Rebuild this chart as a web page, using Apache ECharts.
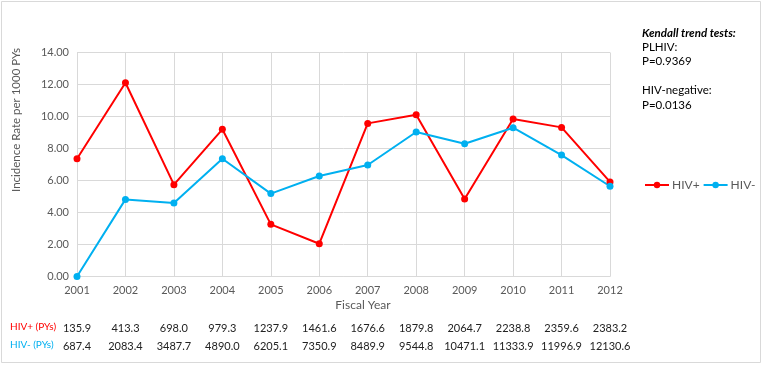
<!DOCTYPE html>
<html>
<head>
<meta charset="utf-8">
<script src="https://cdn.jsdelivr.net/npm/echarts@6/dist/echarts.min.js"></script>
<style>
  html, body { margin: 0; padding: 0; background: #fff; }
  #chart { width: 763px; height: 365px; }
</style>
</head>
<body>
<div id="chart"></div>
<script>
// fiscal years on the x axis
var years = ['2001','2002','2003','2004','2005','2006','2007','2008','2009','2010','2011','2012'];
// incidence rate per 1000 PYs
var hivPos = [7.36, 12.11, 5.74, 9.20, 3.26, 2.05, 9.57, 10.11, 4.84, 9.84, 9.32, 5.91];
var hivNeg = [0.00, 4.82, 4.59, 7.36, 5.18, 6.28, 6.97, 9.03, 8.30, 9.30, 7.59, 5.64];
// person-years table under the chart
var pysPos = ['135.9','413.3','698.0','979.3','1237.9','1461.6','1676.6','1879.8','2064.7','2238.8','2359.6','2383.2'];
var pysNeg = ['687.4','2083.4','3487.7','4890.0','6205.1','7350.9','8489.9','9544.8','10471.1','11333.9','11996.9','12130.6'];
var kendallLines = ['PLHIV:', 'P=0.9369', '', 'HIV-negative:', 'P=0.0136'];

var FONT = 'Lato';
var RED = '#ff0000', BLUE = '#00b0f0', GREY = '#595959', GRID = '#d9d9d9';

var chart = echarts.init(document.getElementById('chart'));

// extra category axis used as one row of the PY table
function tableAxis(vals, margin) {
	return {
		type: 'category',
		data: vals,
		boundaryGap: false,
		position: 'bottom',
		axisLine: { show: false },
		axisTick: { show: false },
		splitLine: { show: false },
		axisLabel: { interval: 0, margin: margin, color: '#222', fontSize: 11, fontFamily: FONT }
	};
}

var option = {
	backgroundColor: '#fff',
	animation: false,
	textStyle: { fontFamily: FONT },
	grid: { left: 77, right: 153, top: 52.5, bottom: 88.5, containLabel: false },
	legend: {
		data: ['HIV+', 'HIV-'],
		orient: 'horizontal',
		left: 644, top: 179, width: 115, padding: 0,
		itemWidth: 24, itemHeight: 8, itemGap: 3,
		textStyle: { color: GREY, fontSize: 12, fontFamily: FONT, padding: [0, 0, 0, -2] }
	},
	xAxis: [
		{
			type: 'category',
			data: years,
			boundaryGap: false,
			axisLine: { lineStyle: { color: GRID, width: 1 } },
			axisTick: { show: false },
			splitLine: { show: true, lineStyle: { color: GRID } },
			axisLabel: { interval: 0, margin: 8, color: GREY, fontSize: 11, fontFamily: FONT }
		},
		tableAxis(pysPos, 46),
		tableAxis(pysNeg, 64)
	],
	yAxis: {
		type: 'value',
		min: 0, max: 14, interval: 2,
		axisLine: { show: false },
		axisTick: { show: false },
		splitLine: { lineStyle: { color: GRID } },
		axisLabel: { formatter: function (v) { return v.toFixed(2); }, margin: 8, color: GREY, fontSize: 11, fontFamily: FONT }
	},
	series: [
		{
			name: 'HIV+', type: 'line', data: hivPos,
			symbol: 'circle', symbolSize: 7, color: RED,
			lineStyle: { width: 2, color: RED }, itemStyle: { color: RED }
		},
		{
			name: 'HIV-', type: 'line', data: hivNeg,
			symbol: 'circle', symbolSize: 7, color: BLUE,
			lineStyle: { width: 2, color: BLUE }, itemStyle: { color: BLUE }
		}
	],
	graphic: [
		{ type: 'rect', shape: { x: 1.5, y: 1.5, width: 759, height: 361 }, style: { fill: null, stroke: GRID, lineWidth: 1 }, silent: true },
		{ type: 'text', x: 16.5, y: 120, rotation: Math.PI / 2,
		  style: { text: 'Incidence Rate per 1000 PYs', fill: GREY, fontSize: 11.5, fontFamily: FONT, align: 'center', verticalAlign: 'middle' } },
		{ type: 'text', x: 363, y: 305,
		  style: { text: 'Fiscal Year', fill: GREY, fontSize: 12, fontFamily: FONT, align: 'center', verticalAlign: 'middle' } },
		{ type: 'text', x: 10, y: 327,
		  style: { text: 'HIV+ (PYs)', fill: RED, fontSize: 10, fontFamily: FONT, verticalAlign: 'middle' } },
		{ type: 'text', x: 10, y: 345,
		  style: { text: 'HIV- (PYs)', fill: BLUE, fontSize: 10, fontFamily: FONT, verticalAlign: 'middle' } },
		{ type: 'text', x: 642, y: 33,
		  style: { text: 'Kendall trend tests:', fill: '#000', fontSize: 11.5, fontWeight: 'bold', fontStyle: 'italic', fontFamily: FONT, verticalAlign: 'middle' } },
		{ type: 'text', x: 642, y: 40,
		  style: { text: kendallLines.join('\n'), fill: '#000', fontSize: 11.5, lineHeight: 14.5, fontFamily: FONT, verticalAlign: 'top' } }
	]
};

chart.setOption(option);
</script>
</body>
</html>
